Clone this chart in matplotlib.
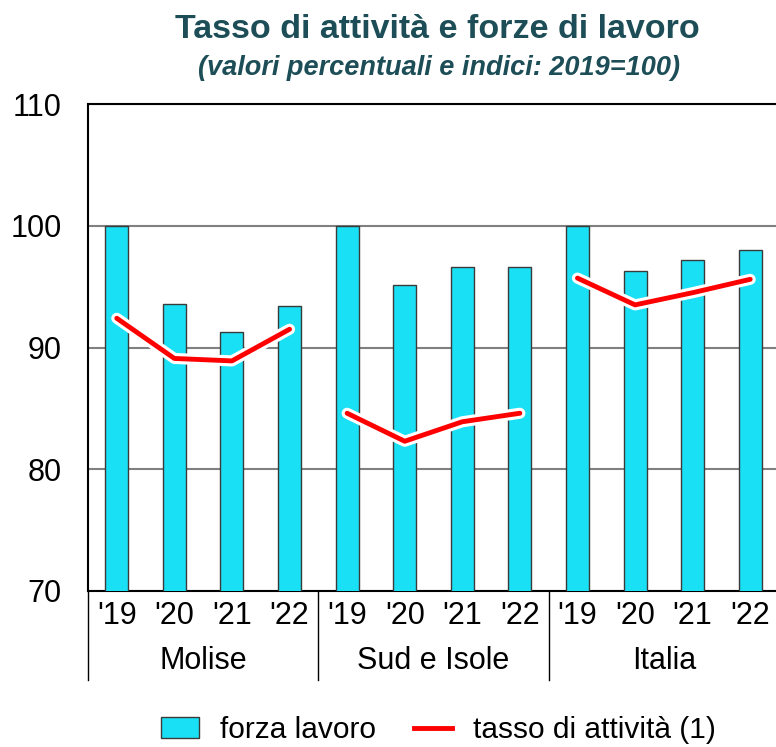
import numpy as np
import matplotlib.pyplot as plt
import matplotlib.transforms as mtransforms
import matplotlib.patheffects as pe
from matplotlib.patches import Patch
from matplotlib.lines import Line2D

plt.rcParams['font.family'] = ['Liberation Sans', 'DejaVu Sans']

groups = ['Molise', 'Sud e Isole', 'Italia']
years = ["'19", "'20", "'21", "'22"]
forza_lavoro = [
    [100, 93.6, 91.3, 93.4],
    [100, 95.1, 96.6, 96.6],
    [100, 96.3, 97.2, 98.0],
]
tasso_attivita = [
    [92.4, 89.1, 88.9, 91.5],
    [84.6, 82.3, 83.9, 84.6],
    [95.7, 93.5, 94.5, 95.6],
]

W, H = 776, 747
fig = plt.figure(figsize=(W / 100, H / 100), dpi=100)
ax = fig.add_axes([88 / W, (H - 591) / H, (779 - 88) / W, (591 - 104) / H])

cyan = '#1ae0f5'
for g in range(len(groups)):
    x = np.arange(4) + 4 * g
    ax.bar(x, forza_lavoro[g], width=0.4, bottom=0, color=cyan,
           edgecolor='#3a3a3a', linewidth=1, zorder=3)
    ax.plot(x, tasso_attivita[g], color='#ff0000', lw=3.5, zorder=4,
            solid_capstyle='round',
            path_effects=[pe.Stroke(linewidth=8, foreground='white'), pe.Normal()])

ax.set_ylim(70, 110)
ax.set_xlim(-0.5, 11.5)
ax.set_yticks([70, 80, 90, 100, 110])
ax.yaxis.grid(True, color='#808080', lw=1.5, zorder=1)
ax.set_axisbelow(True)
ax.tick_params(axis='y', length=0, labelsize=22, pad=19)
ax.set_xticks(np.arange(12))
ax.set_xticklabels(years * 3)
ax.tick_params(axis='x', length=0, labelsize=22, pad=7)
for s in ['left', 'bottom', 'top']:
    ax.spines[s].set_color('black')
    ax.spines[s].set_linewidth(1.5)
ax.spines['right'].set_visible(False)

# separators and group names under the axis
trans = mtransforms.blended_transform_factory(ax.transData, ax.transAxes)
ext = (680 - 591) / (591 - 104)
for xs in [-0.5, 3.5, 7.5, 11.5]:
    ax.plot([xs, xs], [0, -ext], color='black', lw=1, transform=trans, clip_on=False)
for g, name in enumerate(groups):
    ax.text(4 * g + 1.5, -(661 - 591) / (591 - 104), name, transform=trans,
            ha='center', va='center', fontsize=22)

fig.text(0.563, 1 - 29 / H, 'Tasso di attività e forze di lavoro', ha='center', va='center',
         fontsize=24.5, fontweight='bold', color='#1d4e57')
fig.text(0.566, 1 - 68 / H, '(valori percentuali e indici: 2019=100)', ha='center', va='center',
         fontsize=19.5, fontweight='bold', style='italic', color='#1d4e57')

handles = [Patch(facecolor=cyan, edgecolor='#3a3a3a', label='forza lavoro'),
           Line2D([0], [0], color='#ff0000', lw=3.5, label='tasso di attività (1)')]
fig.legend(handles=handles, loc='center', bbox_to_anchor=(0.565, 1 - 730 / H), ncol=2,
           frameon=False, fontsize=21.5, handlelength=1.25, columnspacing=1.3, handletextpad=0.7)

fig.savefig('out.png', dpi=100)
